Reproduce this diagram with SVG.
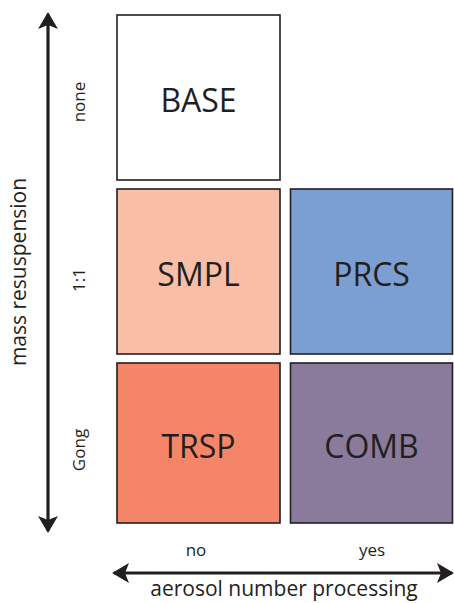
<svg xmlns="http://www.w3.org/2000/svg" width="454" height="603" viewBox="0 0 454 603">
<style>
.box{stroke:#231f20;stroke-width:1.6}
.lbl{font-family:"Open Sans","Liberation Sans",sans-serif;font-size:32px;fill:#231f20;text-anchor:middle}
.tick{font-family:"Open Sans","Liberation Sans",sans-serif;font-size:17px;fill:#231f20;text-anchor:middle}
.axis{font-family:"Open Sans","Liberation Sans",sans-serif;font-size:21px;fill:#231f20;text-anchor:middle}
.ax{stroke:#231f20;stroke-width:3.2;fill:none}
</style>
<defs>
<marker id="ah" viewBox="0 0 17 20" refX="15" refY="10" markerWidth="17" markerHeight="20" markerUnits="userSpaceOnUse" orient="auto">
<path d="M0,0 L17,10 L0,20 L4,10 Z" fill="#231f20"/>
</marker>
</defs>
<g id="connectors">
<line class="ax" x1="48" y1="270" x2="48" y2="14" marker-end="url(#ah)"/>
<line class="ax" x1="48" y1="270" x2="48" y2="531" marker-end="url(#ah)"/>
<line class="ax" x1="283" y1="573" x2="114" y2="573" marker-end="url(#ah)"/>
<line class="ax" x1="283" y1="573" x2="452" y2="573" marker-end="url(#ah)"/>
</g>
<g id="BASE"><rect class="box" x="117" y="15" width="163" height="165" fill="#ffffff"/><text class="lbl" x="198.5" y="112">BASE</text></g>
<g id="SMPL"><rect class="box" x="117" y="189" width="163" height="165" fill="#f9bfa6"/><text class="lbl" x="198.5" y="286">SMPL</text></g>
<g id="PRCS"><rect class="box" x="290.5" y="189" width="162" height="165" fill="#7b9fd3"/><text class="lbl" x="371.5" y="286">PRCS</text></g>
<g id="TRSP"><rect class="box" x="117" y="363" width="163" height="160" fill="#f48568"/><text class="lbl" x="198.5" y="458">TRSP</text></g>
<g id="COMB"><rect class="box" x="290.5" y="363" width="162" height="160" fill="#8a7b9c"/><text class="lbl" x="371.5" y="458">COMB</text></g>
<g id="labels">
<text class="tick" transform="translate(85,102) rotate(-90)">none</text>
<text class="tick" transform="translate(85,280) rotate(-90)">1:1</text>
<text class="tick" transform="translate(85,450) rotate(-90)">Gong</text>
<text class="axis" transform="translate(26,272) rotate(-90)">mass resuspension</text>
<text class="tick" x="196" y="556">no</text>
<text class="tick" x="372" y="556">yes</text>
<text class="axis" x="284" y="596">aerosol number processing</text>
</g>
</svg>
